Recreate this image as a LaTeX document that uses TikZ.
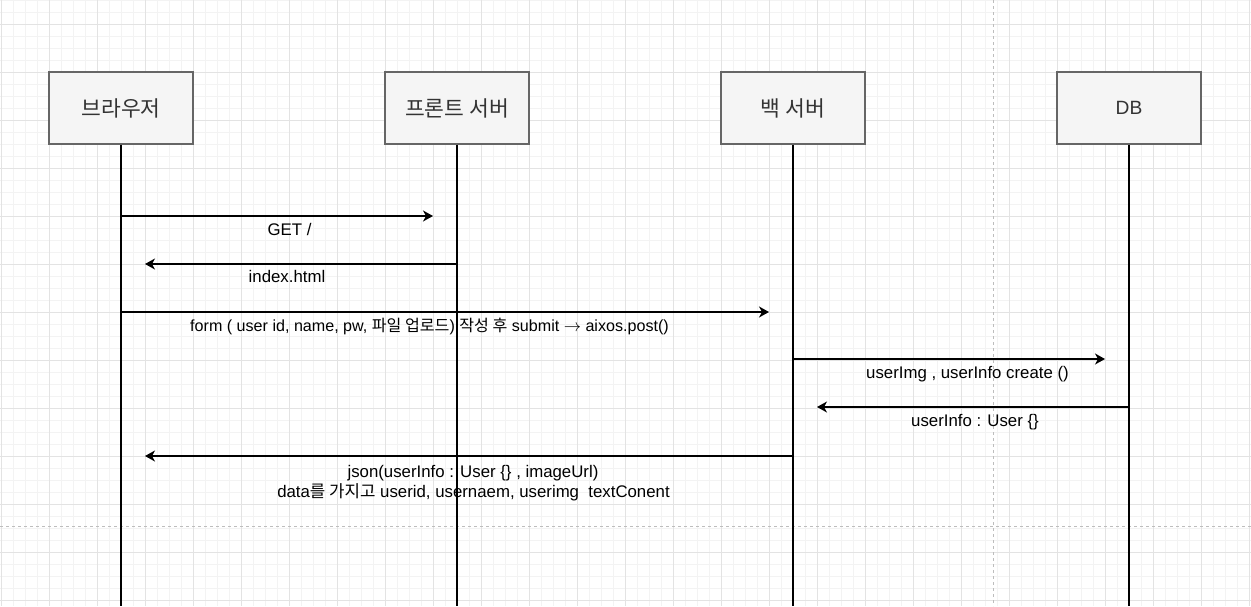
\documentclass[tikz,border=0pt]{standalone}
\usepackage{fontspec}
\setmainfont{Liberation Sans}
\newfontfamily\kr{Noto Sans CJK KR}
\newfontfamily\krbig{Noto Sans CJK KR}[Scale=1.12]
\usetikzlibrary{arrows.meta}
\definecolor{gridminor}{HTML}{F3F3F3}
\definecolor{gridmajor}{HTML}{E3E3E3}
\definecolor{boxfill}{HTML}{F5F5F5}
\definecolor{boxline}{HTML}{666666}
\definecolor{boxtext}{HTML}{333333}
\definecolor{pageline}{HTML}{BDBDBD}
\begin{document}
\begin{tikzpicture}[x=1pt,y=-1pt,
 actor/.style={draw=boxline, fill=boxfill, line width=1.2pt, minimum width=144pt, minimum height=72pt, inner sep=0pt, text=boxtext, font=\fontsize{19.2}{23}\selectfont},
 life/.style={line width=1.2pt},
 msg/.style={line width=1.2pt, -{Stealth[length=10pt,width=11pt,inset=3pt]}},
 lbl/.style={anchor=base, inner sep=0pt, font=\fontsize{16.8}{20}\selectfont},
 lblsmall/.style={anchor=base, inner sep=0pt, font=\fontsize{16.1}{19}\selectfont},
]
\useasboundingbox (0,0) rectangle (1251,606);
\fill[white] (0,0) rectangle (1251,606);
% grid
\foreach \x in {1,13,...,1250} \draw[gridminor, line width=1pt] (\x,0) -- (\x,606);
\foreach \y in {0,12,...,606} \draw[gridminor, line width=1pt] (0,\y) -- (1251,\y);
\foreach \x in {1,49,...,1250} \draw[gridmajor, line width=1pt] (\x,0) -- (\x,606);
\foreach \y in {24,72,...,606} \draw[gridmajor, line width=1pt] (0,\y) -- (1251,\y);
% page break lines
\draw[pageline, line width=1pt, dash pattern=on 3pt off 3pt] (993,0) -- (993,606);
\draw[pageline, line width=1pt, dash pattern=on 3pt off 3pt] (0,526) -- (1251,526);

% actors
\node[actor] (br) at (121,108) {\krbig 브라우저};
\node[actor] (fs) at (457,108) {\krbig 프론트 서버};
\node[actor] (bs) at (793,108) {\krbig 백 서버};
\node[actor] (db) at (1129,108) {DB};

% lifeline ends
\coordinate (brb) at (121,606);
\coordinate (fsb) at (457,606);
\coordinate (bsb) at (793,606);
\coordinate (dbb) at (1129,606);
\draw[life] (br.south) -- (brb);
\draw[life] (fs.south) -- (fsb);
\draw[life] (bs.south) -- (bsb);
\draw[life] (db.south) -- (dbb);

% message end points
\coordinate (m1a) at (121,216); \coordinate (m1b) at (433,216);
\coordinate (m2a) at (457,264); \coordinate (m2b) at (145,264);
\coordinate (m3a) at (121,312); \coordinate (m3b) at (769,312);
\coordinate (m4a) at (793,359); \coordinate (m4b) at (1105,359);
\coordinate (m5a) at (1129,407); \coordinate (m5b) at (817,407);
\coordinate (m6a) at (793,456); \coordinate (m6b) at (145,456);

\draw[msg] (m1a) -- (m1b);
\draw[msg] (m2a) -- (m2b);
\draw[msg] (m3a) -- (m3b);
\draw[msg] (m4a) -- (m4b);
\draw[msg] (m5a) -- (m5b);
\draw[msg] (m6a) -- (m6b);

% labels
\node[lbl] (l1) at (289.5,235) {GET /};
\node[lbl] (l2) at (287,282) {index.html};
\node[lblsmall] (l3) at (429.5,331) {form ( user id, name, pw, {\kr 파일 업로드}) {\kr 작성 후} submit \(\rightarrow\) aixos.post()};
\node[lbl] (l4) at (967.5,378) {userImg , userInfo create ()};
\node[lbl] (l5) at (975,426) {userInfo : User \{\}};
\node[lbl] (l6a) at (473,477) {json(userInfo : User \{\} , imageUrl)};
\node[lbl] (l6b) at (473.5,497.5) {data{\kr 를 가지고} userid, usernaem, userimg\ \ textConent};
\end{tikzpicture}
\end{document}
